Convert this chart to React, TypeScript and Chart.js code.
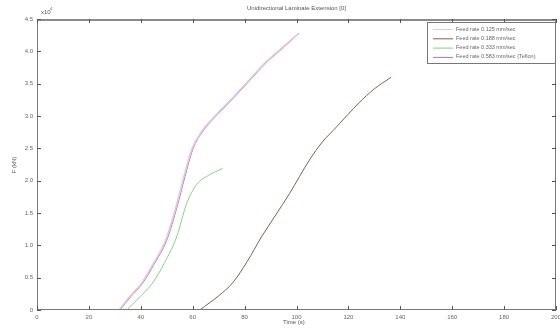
import React, { useEffect, useRef } from "react";
import { Chart, registerables } from "chart.js";

Chart.register(...registerables);

const titleText = "Unidirectional Laminate Extension [0]";
const xLabel = "Time (s)";
const yLabel = "F (kN)";
const yExponent = "x10";
const seriesNames = [
  "Feed rate 0.125 mm/sec",
  "Feed rate 0.188 mm/sec",
  "Feed rate 0.333 mm/sec",
  "Feed rate 0.583 mm/sec (Teflon)",
];
const seriesColors = ["#e8c8dc", "#8a5a5a", "#86d286", "#a878b4"];

// values in units of 10^4
const t1 = [31.6, 35.6, 40.4, 44.6, 49.6, 53.6, 56.6, 59.6, 63.6, 69.6, 75.6, 81.6, 88.1, 94.6, 100.6];
const y1 = [0, 0.2, 0.42, 0.7, 1.08, 1.6, 2.06, 2.48, 2.77, 3.04, 3.29, 3.55, 3.83, 4.06, 4.27];
const t2 = [62.7, 70, 75.4, 81, 86.5, 92, 97.3, 105, 110, 115.4, 124, 130, 136.5];
const y2 = [0, 0.22, 0.42, 0.75, 1.13, 1.47, 1.8, 2.32, 2.6, 2.83, 3.2, 3.42, 3.6];
const t3 = [34.6, 39, 44.6, 49, 53.8, 57.7, 61.5, 66, 71.5];
const y3 = [0, 0.18, 0.42, 0.72, 1.13, 1.65, 1.94, 2.08, 2.19];
const t4 = [32, 36, 40.8, 45, 50, 54, 57, 60, 64, 70, 76, 82, 88.5, 95, 101];
const y4 = [0, 0.2, 0.42, 0.7, 1.08, 1.6, 2.06, 2.48, 2.77, 3.04, 3.29, 3.55, 3.83, 4.06, 4.28];
const tBase = [4, 183];
const yBase = [0, 0];

const xMin = 0, xMax = 200, xStep = 20;
const yMin = 0, yMax = 4.5, yStep = 0.5;

const pts = (t: number[], y: number[]) => t.map((v, i) => ({ x: v, y: y[i] }));

const FONT = "Liberation Sans, Arial, sans-serif";

const framePlugin = {
  id: "matlabFrame",
  afterDatasetsDraw(chart: any) {
    const { ctx, chartArea: a, scales } = chart;
    const xs = scales.x, ys = scales.y;
    ctx.save();
    ctx.strokeStyle = "#7a7a7a";
    ctx.lineWidth = 1;
    ctx.strokeRect(a.left + 0.5, a.top + 0.5, a.right - a.left - 1, a.bottom - a.top - 1);
    ctx.strokeStyle = "#8a8a8a";
    ctx.lineWidth = 2;
    ctx.beginPath();
    ctx.moveTo(a.left, a.top + 1);
    ctx.lineTo(a.right, a.top + 1);
    ctx.stroke();
    ctx.strokeStyle = "#555";
    ctx.lineWidth = 1;
    const tl = 4;
    xs.ticks.forEach((tk: any) => {
      const px = Math.round(xs.getPixelForValue(tk.value)) + 0.5;
      ctx.beginPath();
      ctx.moveTo(px, a.bottom);
      ctx.lineTo(px, a.bottom - tl);
      ctx.moveTo(px, a.top);
      ctx.lineTo(px, a.top + tl);
      ctx.stroke();
    });
    ys.ticks.forEach((tk: any) => {
      const py = Math.round(ys.getPixelForValue(tk.value)) + 0.5;
      ctx.beginPath();
      ctx.moveTo(a.left, py);
      ctx.lineTo(a.left + tl, py);
      ctx.moveTo(a.right, py);
      ctx.lineTo(a.right - tl, py);
      ctx.stroke();
    });
    ctx.fillStyle = "#555";
    ctx.font = `6px ${FONT}`;
    ctx.textAlign = "center";
    ctx.textBaseline = "middle";
    ctx.fillText(titleText, (a.left + a.right) / 2, 8);
    ctx.textAlign = "left";
    ctx.fillText(xLabel, 283, 322);
    ctx.save();
    ctx.translate(14, 165);
    ctx.rotate(-Math.PI / 2);
    ctx.textAlign = "center";
    ctx.fillText(yLabel, 0, 0);
    ctx.restore();
    ctx.textAlign = "left";
    ctx.fillText(yExponent, a.left + 4, a.top - 7);
    ctx.font = `4px ${FONT}`;
    ctx.fillText("4", a.left + 13, a.top - 10);
    const lx = 427, ly = 22, lw = 128, lh = 41;
    ctx.fillStyle = "#fff";
    ctx.fillRect(lx, ly, lw, lh);
    ctx.strokeStyle = "#777";
    ctx.lineWidth = 1;
    ctx.strokeRect(lx + 0.5, ly + 0.5, lw, lh);
    ctx.font = `5.5px ${FONT}`;
    seriesNames.forEach((name, i) => {
      const yy = ly + 7 + i * 9.3;
      ctx.strokeStyle = seriesColors[i];
      ctx.lineWidth = 1;
      ctx.beginPath();
      ctx.moveTo(lx + 6, yy + 0.5);
      ctx.lineTo(lx + 26, yy + 0.5);
      ctx.stroke();
      ctx.fillStyle = "#666";
      ctx.textAlign = "left";
      ctx.fillText(name, lx + 29, yy);
    });
    ctx.restore();
  },
};

export default function App() {
  const ref = useRef<HTMLCanvasElement | null>(null);
  useEffect(() => {
    document.body.style.margin = "0";
    const canvas = ref.current;
    if (!canvas) return;
    const data = [
      { data: pts(t1, y1), color: seriesColors[0], w: 1.6 },
      { data: pts(t2, y2), color: seriesColors[1], w: 1 },
      { data: pts(t3, y3), color: seriesColors[2], w: 1 },
      { data: pts(t4, y4), color: seriesColors[3], w: 1 },
    ];
    const chart = new Chart(canvas, {
      type: "line",
      data: {
        datasets: [
          {
            label: "baseline",
            data: pts(tBase, yBase),
            borderColor: "#3a3a55",
            borderWidth: 2,
            pointRadius: 0,
            tension: 0,
          },
          ...data.map((d, i) => ({
            label: seriesNames[i],
            data: d.data,
            borderColor: d.color,
            borderWidth: d.w,
            pointRadius: 0,
            cubicInterpolationMode: "monotone" as const,
          })),
        ],
      },
      options: {
        animation: false,
        responsive: false,
        maintainAspectRatio: false,
        layout: { padding: { left: 0, top: 19, right: 4, bottom: 0 } },
        plugins: {
          legend: { display: false },
          title: { display: false },
          tooltip: { enabled: false },
        },
        scales: {
          x: {
            type: "linear",
            min: xMin,
            max: xMax,
            grid: { display: false, drawTicks: false },
            border: { display: false },
            ticks: {
              stepSize: xStep,
              maxRotation: 0,
              autoSkip: false,
              padding: 4,
              color: "#666",
              font: { size: 6, family: FONT },
            },
            afterFit: (s: any) => {
              s.height = 19;
              s.paddingLeft = 0;
              s.paddingRight = 0;
            },
          },
          y: {
            type: "linear",
            min: yMin,
            max: yMax,
            grid: { display: false, drawTicks: false },
            border: { display: false },
            ticks: {
              stepSize: yStep,
              autoSkip: false,
              padding: 4,
              color: "#666",
              font: { size: 6, family: FONT },
            },
            afterFit: (s: any) => {
              s.width = 37;
              s.paddingTop = 0;
              s.paddingBottom = 0;
            },
          },
        },
      },
      plugins: [framePlugin],
    });
    return () => chart.destroy();
  }, []);
  return (
    <div style={{ position: "absolute", left: 0, top: 0, width: 560, height: 329, background: "#fff" }}>
      <canvas ref={ref} width={560} height={329} style={{ width: 560, height: 329 }} />
    </div>
  );
}
